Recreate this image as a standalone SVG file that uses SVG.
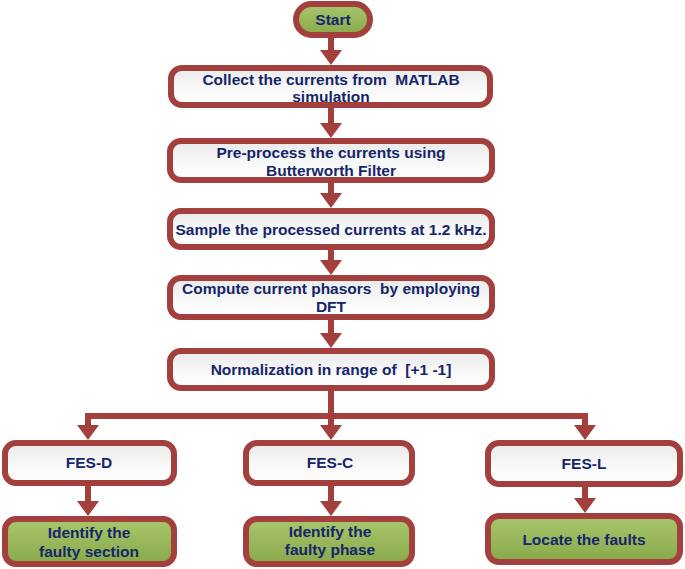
<svg xmlns="http://www.w3.org/2000/svg" width="685" height="569" viewBox="0 0 685 569">
<defs>
<linearGradient id="gw" x1="0" y1="0" x2="0" y2="1">
<stop offset="0" stop-color="#e9e9e9"/>
<stop offset="0.5" stop-color="#f7f7f7"/>
<stop offset="1" stop-color="#ffffff"/>
</linearGradient>
<linearGradient id="gg" x1="0" y1="0" x2="0" y2="1">
<stop offset="0" stop-color="#a9c66c"/>
<stop offset="1" stop-color="#88a94a"/>
</linearGradient>
</defs>
<style>
.box{fill:url(#gw);stroke:#a33f3d;stroke-width:6}
.gbox{fill:url(#gg);stroke:#a33f3d;stroke-width:6}
.t{font-family:"Liberation Sans",Arial,sans-serif;font-weight:bold;font-size:15.5px;fill:#15266a;text-anchor:middle;white-space:pre}
.c{fill:none;stroke:#a33f3d;stroke-width:6}
.h{fill:#a33f3d}
</style>
<rect width="685" height="569" fill="#ffffff"/>
<g id="connectors">
<line class="c" x1="331" y1="38" x2="331" y2="52"/>
<polygon class="h" points="320,50 342,50 331,65"/>
<line class="c" x1="331" y1="108" x2="331" y2="125"/>
<polygon class="h" points="320,123 342,123 331,138"/>
<line class="c" x1="331" y1="183" x2="331" y2="195"/>
<polygon class="h" points="320,193 342,193 331,208"/>
<line class="c" x1="331" y1="250" x2="331" y2="262"/>
<polygon class="h" points="320,260 342,260 331,275"/>
<line class="c" x1="331" y1="320" x2="331" y2="335"/>
<polygon class="h" points="320,333 342,333 331,348"/>
<line class="c" x1="331" y1="391" x2="331" y2="427"/>
<polyline class="c" points="88,427 88,416 585,416 585,427"/>
<polygon class="h" points="77,425 99,425 88,440"/>
<polygon class="h" points="320,425 342,425 331,440"/>
<polygon class="h" points="574,425 596,425 585,440"/>
<line class="c" x1="88" y1="486" x2="88" y2="503"/>
<polygon class="h" points="77,501 99,501 88,516"/>
<line class="c" x1="331" y1="486" x2="331" y2="503"/>
<polygon class="h" points="320,501 342,501 331,516"/>
<line class="c" x1="585" y1="487" x2="585" y2="500"/>
<polygon class="h" points="574,498 596,498 585,513"/>
</g>
<g id="start">
<rect class="gbox" x="296" y="4" width="74" height="31" rx="15.5"/>
<text class="t" x="333" y="25">Start</text>
</g>
<g id="collect">
<rect class="box" x="171" y="68" width="319" height="37" rx="11"/>
<text class="t" x="331" y="85">Collect the currents from  MATLAB</text>
<text class="t" x="331" y="102">simulation</text>
</g>
<g id="preprocess">
<rect class="box" x="170" y="141" width="322" height="39" rx="11"/>
<text class="t" x="331" y="158">Pre-process the currents using</text>
<text class="t" x="331" y="176">Butterworth Filter</text>
</g>
<g id="sample">
<rect class="box" x="170" y="211" width="322" height="36" rx="11"/>
<text class="t" x="331" y="235">Sample the processed currents at 1.2 kHz.</text>
</g>
<g id="compute">
<rect class="box" x="170" y="278" width="322" height="39" rx="11"/>
<text class="t" x="331" y="294">Compute current phasors  by employing</text>
<text class="t" x="331" y="312">DFT</text>
</g>
<g id="normalize">
<rect class="box" x="170" y="351" width="322" height="37" rx="11"/>
<text class="t" x="331" y="375">Normalization in range of  [+1 -1]</text>
</g>
<g id="fesd">
<rect class="box" x="5" y="443" width="169" height="40" rx="11"/>
<text class="t" x="89" y="468">FES-D</text>
</g>
<g id="fesc">
<rect class="box" x="246" y="443" width="166" height="40" rx="11"/>
<text class="t" x="330" y="468">FES-C</text>
</g>
<g id="fesl">
<rect class="box" x="488" y="443" width="192" height="41" rx="11"/>
<text class="t" x="584" y="469">FES-L</text>
</g>
<g id="faultysection">
<rect class="gbox" x="5" y="519" width="169" height="45" rx="11"/>
<text class="t" x="89" y="538">Identify the</text>
<text class="t" x="89" y="557">faulty section</text>
</g>
<g id="faultyphase">
<rect class="gbox" x="246" y="519" width="166" height="45" rx="11"/>
<text class="t" x="330" y="537">Identify the</text>
<text class="t" x="330" y="555">faulty phase</text>
</g>
<g id="locate">
<rect class="gbox" x="488" y="516" width="192" height="46" rx="11"/>
<text class="t" x="584" y="545">Locate the faults</text>
</g>
</svg>
